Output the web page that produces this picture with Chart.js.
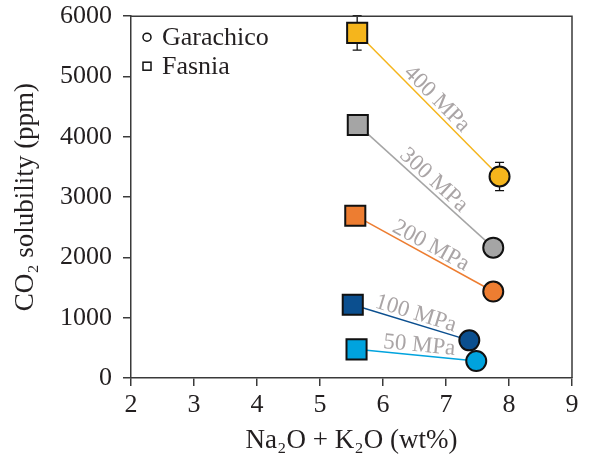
<!DOCTYPE html>
<html>
<head>
<meta charset="utf-8">
<script src="https://cdn.jsdelivr.net/npm/chart.js@4.4.0/dist/chart.umd.min.js"></script>
<style>
  html, body { margin: 0; padding: 0; background: #fff; }
  #wrap { width: 589px; height: 458px; }
</style>
</head>
<body>
<div id="wrap"><canvas id="chart"></canvas></div>
<script>
// pressures for each tie line
const pressures = ['50 MPa', '100 MPa', '200 MPa', '300 MPa', '400 MPa'];
// Fasnia (squares)
const fasniaAlk = [5.58, 5.52, 5.56, 5.60, 5.59];
const fasniaCO2 = [475, 1214, 2692, 4197, 5724];
const fasniaErr = [0, 0, 0, 0, 285];
// Garachico (circles)
const garachicoAlk = [7.48, 7.37, 7.75, 7.75, 7.85];
const garachicoCO2 = [281, 624, 1434, 2162, 3342];
const garachicoErr = [0, 0, 0, 0, 235];
const colors = ['#00A3DE', '#0B4F8F', '#ED7D31', '#A5A5A5', '#F5B51C'];
const xTicks = [2, 3, 4, 5, 6, 7, 8, 9];
const yTicks = [0, 1000, 2000, 3000, 4000, 5000, 6000];

const serif = "'Liberation Serif', 'Times New Roman', Times, serif";
const txtColor = '#231f20';
const axisColor = '#3a3a3a';

const datasets = pressures.map((p, i) => ({
    label: p,
    data: [
        { x: fasniaAlk[i], y: fasniaCO2[i], err: fasniaErr[i] },
        { x: garachicoAlk[i], y: garachicoCO2[i], err: garachicoErr[i] }
    ],
    showLine: true,
    borderColor: colors[i],
    borderWidth: 1.5,
    backgroundColor: colors[i],
    pointBackgroundColor: colors[i],
    pointBorderColor: '#111',
    pointBorderWidth: 2,
    pointStyle: ['rect', 'circle'],
    pointRadius: [14.2, 10],
    pointHoverRadius: [14.2, 10]
}));

// error bars, drawn under the markers
const errorBars = {
    id: 'errorBars',
    beforeDatasetsDraw(chart) {
        const ctx = chart.ctx;
        const ys = chart.scales.y;
        ctx.save();
        ctx.strokeStyle = '#111';
        ctx.lineWidth = 1.3;
        chart.data.datasets.forEach((ds, di) => {
            const meta = chart.getDatasetMeta(di);
            ds.data.forEach((d, j) => {
                if (!d.err) return;
                const px = meta.data[j].x;
                const top = ys.getPixelForValue(d.y + d.err);
                const bot = ys.getPixelForValue(d.y - d.err);
                ctx.beginPath();
                ctx.moveTo(px, top); ctx.lineTo(px, bot);
                ctx.moveTo(px - 4.5, top); ctx.lineTo(px + 4.5, top);
                ctx.moveTo(px - 4.5, bot); ctx.lineTo(px + 4.5, bot);
                ctx.stroke();
            });
        });
        ctx.restore();
    }
};

// pressure labels along each tie line
const lineLabels = {
    id: 'lineLabels',
    afterDatasetsDraw(chart) {
        const ctx = chart.ctx;
        ctx.save();
        ctx.font = '23px ' + serif;
        ctx.fillStyle = '#aaa5a6';
        ctx.textAlign = 'center';
        ctx.textBaseline = 'middle';
        chart.data.datasets.forEach((ds, di) => {
            const pts = chart.getDatasetMeta(di).data;
            const a = pts[0], b = pts[1];
            const ang = Math.atan2(b.y - a.y, b.x - a.x);
            const mx = (a.x + b.x) / 2 + 2 * Math.cos(ang) + 10 * Math.sin(ang);
            const my = (a.y + b.y) / 2 + 2 * Math.sin(ang) - 10 * Math.cos(ang);
            ctx.save();
            ctx.translate(mx, my);
            ctx.rotate(ang);
            ctx.fillText(ds.label, 0, 0);
            ctx.restore();
        });
        ctx.restore();
    }
};

// top/right frame and the in-plot legend
const frameLegend = {
    id: 'frameLegend',
    afterDraw(chart) {
        const ctx = chart.ctx;
        const a = chart.chartArea;
        ctx.save();
        ctx.strokeStyle = axisColor;
        ctx.lineWidth = 1.5;
        ctx.beginPath();
        ctx.moveTo(a.left, a.top);
        ctx.lineTo(a.right, a.top);
        ctx.lineTo(a.right, a.bottom);
        ctx.stroke();

        ctx.font = '26px ' + serif;
        ctx.fillStyle = txtColor;
        ctx.textBaseline = 'middle';
        ctx.textAlign = 'left';
        ctx.strokeStyle = '#111';
        ctx.lineWidth = 1.5;
        ctx.beginPath();
        ctx.arc(a.left + 16, a.top + 21, 4, 0, Math.PI * 2);
        ctx.stroke();
        ctx.strokeRect(a.left + 12, a.top + 46, 8, 8);
        ctx.fillText('Garachico', a.left + 31, a.top + 22);
        ctx.fillText('Fasnia', a.left + 31, a.top + 51);
        ctx.restore();
    }
};

function draw() {
    new Chart(document.getElementById('chart'), {
        type: 'scatter',
        data: { datasets: datasets },
        options: {
            responsive: true,
            maintainAspectRatio: false,
            animation: false,
            layout: { padding: { top: 15, right: 17, left: 0, bottom: 0 } },
            plugins: {
                legend: { display: false },
                tooltip: { enabled: false }
            },
            scales: {
                x: {
                    type: 'linear',
                    min: 2,
                    max: 9,
                    afterBuildTicks: s => { s.ticks = xTicks.map(v => ({ value: v })); },
                    afterFit: s => { s.height = 80; s.paddingLeft = 0; s.paddingRight = 0; },
                    ticks: { font: { family: serif, size: 26 }, color: txtColor, padding: 4, callback: v => String(v) },
                    grid: { drawOnChartArea: false, drawTicks: true, tickLength: 8, color: axisColor, lineWidth: 1.5 },
                    border: { color: axisColor, width: 1.5 },
                    title: {
                        display: true,
                        text: 'Na\u2082O + K\u2082O (wt%)',
                        font: { family: serif, size: 27 },
                        color: txtColor,
                        padding: { top: 0, bottom: 1 }
                    }
                },
                y: {
                    min: 0,
                    max: 6000,
                    afterBuildTicks: s => { s.ticks = yTicks.map(v => ({ value: v })); },
                    afterFit: s => { s.width = 131; s.paddingTop = 0; s.paddingBottom = 0; },
                    ticks: { font: { family: serif, size: 26 }, color: txtColor, padding: 11, callback: v => String(v) },
                    grid: { drawOnChartArea: false, drawTicks: true, tickLength: 8, color: axisColor, lineWidth: 1.5 },
                    border: { color: axisColor, width: 1.5 },
                    title: {
                        display: true,
                        text: 'CO\u2082 solubility (ppm)',
                        font: { family: serif, size: 27 },
                        color: txtColor,
                        padding: { top: 10, bottom: 0 }
                    }
                }
            }
        },
        plugins: [errorBars, lineLabels, frameLegend]
    });
}

if (document.fonts && document.fonts.load) {
    document.fonts.load("26px 'Liberation Serif'").then(draw, draw);
} else {
    draw();
}
</script>
</body>
</html>
